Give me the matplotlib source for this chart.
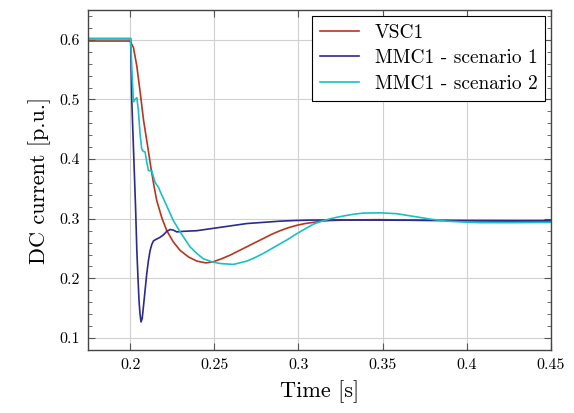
"""DC current after the fault: VSC1 vs MMC1 scenarios"""

import matplotlib
matplotlib.use("Agg")
import matplotlib.pyplot as plt
from matplotlib import ticker as mticker

plt.rcParams["font.family"] = "serif"
plt.rcParams["font.serif"] = ["cmr10", "DejaVu Serif"]
plt.rcParams["mathtext.fontset"] = "cm"
plt.rcParams["axes.formatter.use_mathtext"] = True

# time [s] and DC current [p.u.]
vsc1_t = [0.175, 0.200, 0.202, 0.204, 0.206, 0.208, 0.2103, 0.2123, 0.214, 0.2158,
          0.2188, 0.2218, 0.2257, 0.2297, 0.2347, 0.2397, 0.245, 0.2495, 0.2544,
          0.2594, 0.2643, 0.2693, 0.2742, 0.2792, 0.2841, 0.2891, 0.294, 0.299,
          0.3039, 0.3089, 0.3138, 0.3188, 0.33, 0.348, 0.37, 0.398, 0.42, 0.45]
vsc1_i = [0.598, 0.598, 0.587, 0.556, 0.512, 0.465, 0.424, 0.387, 0.358, 0.331,
          0.302, 0.280, 0.261, 0.247, 0.236, 0.229, 0.226, 0.228, 0.233,
          0.239, 0.246, 0.253, 0.260, 0.267, 0.274, 0.280, 0.285, 0.289,
          0.292, 0.294, 0.296, 0.297, 0.298, 0.2985, 0.2975, 0.2965, 0.296, 0.296]

mmc1_s1_t = [0.175, 0.2003, 0.201, 0.2024, 0.2033, 0.204, 0.2047, 0.2053, 0.2059,
             0.2065, 0.2072, 0.2079, 0.2089, 0.2099, 0.2109, 0.2119, 0.2129,
             0.2139, 0.2158, 0.2178, 0.2198, 0.2218, 0.2238, 0.2257, 0.2277,
             0.232, 0.2396, 0.2495, 0.2594, 0.2693, 0.2792, 0.2891, 0.299,
             0.3089, 0.3188, 0.34, 0.37, 0.40, 0.43, 0.45]
mmc1_s1_i = [0.602, 0.602, 0.498, 0.387, 0.315, 0.247, 0.200, 0.163, 0.140,
             0.127, 0.133, 0.152, 0.180, 0.208, 0.230, 0.247, 0.257,
             0.263, 0.266, 0.269, 0.273, 0.279, 0.282, 0.281, 0.278,
             0.279, 0.280, 0.284, 0.288, 0.292, 0.294, 0.296, 0.2972,
             0.2978, 0.298, 0.2978, 0.2975, 0.2972, 0.297, 0.297]

mmc1_s2_t = [0.175, 0.2003, 0.2012, 0.202, 0.203, 0.204, 0.2049, 0.2059, 0.2069,
             0.2079, 0.2089, 0.2099, 0.2109, 0.2129, 0.2139, 0.2149, 0.2158,
             0.2168, 0.2183, 0.2198, 0.2228, 0.2257, 0.2297, 0.2356, 0.2396,
             0.2435, 0.2485, 0.2534, 0.2614, 0.2693, 0.2742, 0.2792, 0.2841,
             0.2891, 0.294, 0.299, 0.3039, 0.3089, 0.3138, 0.3188, 0.3237,
             0.3287, 0.3336, 0.3386, 0.3485, 0.3584, 0.3683, 0.3781, 0.388,
             0.398, 0.4078, 0.4275, 0.45]
mmc1_s2_i = [0.602, 0.602, 0.540, 0.496, 0.500, 0.503, 0.482, 0.443, 0.417,
             0.413, 0.412, 0.395, 0.381, 0.380, 0.370, 0.361, 0.357,
             0.353, 0.343, 0.334, 0.315, 0.297, 0.278, 0.253, 0.242,
             0.233, 0.228, 0.225, 0.2235, 0.229, 0.235, 0.242, 0.250,
             0.258, 0.266, 0.275, 0.283, 0.291, 0.296, 0.300, 0.303,
             0.3057, 0.308, 0.3095, 0.310, 0.3085, 0.304, 0.2995, 0.296,
             0.2945, 0.2935, 0.2935, 0.294]

fig = plt.figure(figsize=(5.74, 4.13), dpi=100)
ax = fig.add_axes([88 / 574, 1 - 350 / 413, (551 - 88) / 574, (350 - 10) / 413])

ax.plot(vsc1_t, vsc1_i, "-", color="#b8351f", lw=1.2, label="VSC1")
ax.plot(mmc1_s1_t, mmc1_s1_i, "-", color="#2b2b8c", lw=1.2, label="MMC1 - scenario 1")
ax.plot(mmc1_s2_t, mmc1_s2_i, "-", color="#1abfc8", lw=1.2, label="MMC1 - scenario 2")

ax.set_xlim(0.175, 0.45)
ax.set_ylim(0.08, 0.65)
ax.xaxis.set_major_locator(mticker.MultipleLocator(0.05))
ax.yaxis.set_major_locator(mticker.MultipleLocator(0.1))
ax.yaxis.set_minor_locator(mticker.MultipleLocator(0.02))
ax.xaxis.set_major_formatter(mticker.FuncFormatter(lambda v, p: f"{v:g}"))
ax.yaxis.set_major_formatter(mticker.FuncFormatter(lambda v, p: f"{v:g}"))

ax.tick_params(which="both", direction="in", top=True, right=True,
               labelsize=11.5, color="#555555", pad=6)
ax.tick_params(which="major", length=5)
ax.tick_params(which="minor", length=3)
ax.grid(True, which="major", color="#d0d0d0", lw=0.8)
ax.set_axisbelow(True)
for s in ax.spines.values():
    s.set_color("#444444")
    s.set_linewidth(1.0)

ax.set_xlabel("Time [s]", fontsize=16, labelpad=6)
ax.set_ylabel("DC current [p.u.]", fontsize=16, labelpad=6)

leg = ax.legend(loc="upper right", fontsize=14, fancybox=False, framealpha=1,
                edgecolor="black", borderaxespad=0.3, handlelength=2.0,
                labelspacing=0.4, borderpad=0.4)
leg.get_frame().set_linewidth(0.8)

fig.savefig("out.png", dpi=100)
